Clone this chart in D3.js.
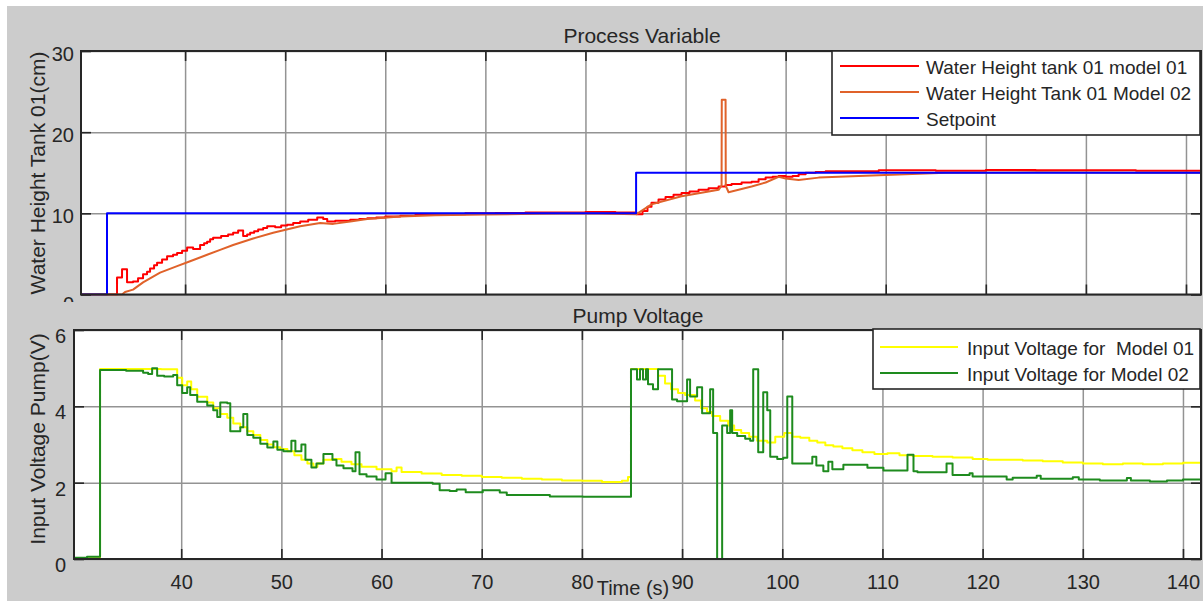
<!DOCTYPE html>
<html>
<head>
<meta charset="utf-8">
<script src="https://cdn.jsdelivr.net/npm/d3@7"></script>
<style>
  html, body { margin: 0; padding: 0; background: #ffffff; }
  svg { display: block; font-family: "Liberation Sans", Arial, Helvetica, sans-serif; }
  text { fill: #262626; }
</style>
</head>
<body>
<svg id="fig" width="1203" height="601"></svg>
<script>
// ---- Process variable (water height, cm) : [time s, value] ----
const setpoint = [[29.6,0],[32.2,10],[85.06,15],[141.6,15]];

const heightModel01 = [
  [29.6,0],[33.2,2.1],[33.7,3.1],[34.2,1.5],[34.8,1.6],[35.3,2.0],[35.8,2.5],[36.2,2.8],
  [36.5,3.2],[36.9,3.6],[37.2,3.9],[37.7,4.3],[38.2,4.7],[38.8,4.9],[39.2,5.1],[39.7,5.4],
  [40.2,5.8],[40.8,5.6],[41.5,6.1],[41.9,6.3],[42.2,6.5],[42.5,6.8],[42.8,7.0],[43.6,7.2],
  [44.3,7.4],[44.8,7.6],[45.3,7.9],[45.8,7.2],[46.2,7.4],[46.5,7.6],[46.9,7.8],[47.3,8.0],
  [47.8,8.2],[48.2,8.4],[49.0,8.3],[49.6,8.5],[50.2,8.6],[50.8,8.8],[51.5,9.0],[52.3,9.2],
  [53.2,9.5],[53.8,9.3],[54.2,9.0],[55.0,9.1],[56.5,9.2],[57.4,9.3],[58.2,9.4],[59.1,9.5],
  [60.0,9.6],[61.5,9.7],[63.0,9.8],[65.0,9.9],[68.0,10.0],[71.0,10.05],[74.0,10.1],
  [77.0,10.1],[80.0,10.15],[83.0,10.1],[85.1,9.9],[85.7,10.3],[86.2,10.8],[86.6,11.3],
  [87.3,11.7],[88.0,12.0],[88.8,12.3],[89.6,12.5],[90.4,12.7],[91.3,12.9],[92.3,13.1],
  [93.3,13.3],[94.0,13.5],[94.6,13.6],[95.6,13.8],[96.6,13.9],[97.3,14.2],[98.0,14.4],
  [98.7,14.5],[99.3,14.6],[100.0,14.5],[100.7,14.6],[101.3,14.8],[102.0,15.0],[103.0,15.1],
  [104.0,15.2],[109.3,15.3],[115.0,15.25],[120.0,15.35],[125.0,15.3],[130.0,15.3],
  [135.0,15.25],[141.6,15.25]
];

const heightModel02 = [
  [29.6,0],[33.7,0],[34.0,0.3],[34.8,0.6],[35.8,1.5],[37.5,2.7],[39.2,3.5],[40.5,4.1],
  [42.2,4.9],[43.5,5.5],[44.8,6.1],[46.8,6.9],[48.8,7.6],[51.5,8.4],[53.5,8.8],[54.8,8.7],
  [56.5,9.0],[58.2,9.3],[61.5,9.6],[65.0,9.75],[70.0,9.85],[75.0,9.95],[80.0,10.0],
  [85.1,9.9],[86.6,11.1],[89.6,12.1],[93.3,12.9],[93.6,13.4],[93.62,24.0],[94.0,24.0],
  [94.02,13.4],[94.3,12.6],[94.6,12.7],[96.6,13.3],[98.0,13.8],[99.3,14.5],[100.0,14.3],
  [101.3,14.1],[103.3,14.4],[105.3,14.5],[109.3,14.7],[116.0,15.0],[125.0,15.05],
  [135.0,15.0],[141.6,15.0]
];

// ---- Pump voltage (V) : [time s, value] ----
const voltageModel01 = [
  [29.3,0.02],[31.9,4.98],[36.0,4.98],[38.0,4.97],[39.6,4.75],[40.1,4.55],[40.6,4.65],
  [41.0,4.45],[41.6,4.25],[42.6,4.1],[43.2,3.95],[43.9,3.8],[44.6,3.7],[45.2,3.55],
  [45.9,3.45],[46.6,3.35],[47.2,3.25],[47.9,3.12],[48.6,3.0],[49.2,2.93],[49.9,2.88],
  [50.6,2.82],[51.3,2.72],[52.0,2.6],[52.6,2.5],[53.2,2.42],[53.6,2.5],[54.2,2.6],
  [55.1,2.62],[56.0,2.55],[57.0,2.48],[58.0,2.42],[59.5,2.35],[61.0,2.3],[61.5,2.4],
  [62.0,2.28],[64.0,2.24],[66.0,2.2],[68.0,2.18],[70.0,2.15],[72.0,2.13],[74.0,2.1],
  [76.0,2.08],[78.0,2.06],[80.0,2.05],[82.0,2.02],[84.0,2.05],[84.6,2.15],[84.9,4.98],
  [87.0,4.98],[87.6,4.8],[88.3,4.6],[88.9,4.45],[89.6,4.35],[90.3,4.3],[91.3,4.15],
  [91.9,3.95],[92.5,3.85],[93.0,3.75],[93.8,3.62],[94.6,3.5],[95.2,3.38],[95.9,3.3],
  [96.7,3.2],[97.5,3.1],[98.5,3.05],[99.3,3.2],[100.2,3.3],[101.0,3.2],[101.8,3.18],
  [102.7,3.1],[103.5,3.05],[104.3,2.98],[105.1,2.95],[106.0,2.9],[107.0,2.85],[108.0,2.8],
  [109.2,2.75],[110.5,2.77],[111.7,2.72],[113.0,2.7],[115.0,2.68],[117.0,2.66],
  [119.0,2.62],[120.5,2.6],[122.0,2.6],[124.0,2.58],[126.0,2.56],[128.0,2.53],[130.0,2.5],
  [132.0,2.48],[134.0,2.5],[136.0,2.48],[138.0,2.5],[140.0,2.52],[141.8,2.45]
];

const voltageModel02 = [
  [29.3,0.03],[30.6,0.06],[31.9,4.95],[34.5,4.93],[36.2,4.88],[36.7,4.85],[37.1,5.0],
  [37.6,4.8],[38.3,4.78],[39.2,4.82],[39.6,4.55],[40.1,4.35],[40.6,4.5],[40.9,4.3],
  [41.6,4.12],[42.6,4.02],[43.2,3.9],[43.6,3.72],[43.9,4.1],[44.6,4.08],[44.9,3.35],
  [45.9,3.45],[46.2,3.8],[46.6,3.25],[47.2,3.18],[47.9,3.02],[48.6,2.92],[49.2,3.08],
  [49.6,2.86],[50.2,2.82],[51.0,3.1],[51.4,2.82],[52.0,3.0],[52.4,2.6],[53.0,2.4],
  [53.5,2.5],[54.2,2.75],[55.1,2.6],[55.5,2.45],[56.2,2.38],[57.1,2.3],[57.4,2.8],
  [57.8,2.22],[58.5,2.16],[59.5,2.08],[60.4,2.25],[61.0,2.0],[65.1,1.97],[65.8,1.8],
  [66.8,1.78],[67.5,1.82],[68.4,1.75],[70.1,1.8],[71.8,1.74],[72.5,1.68],[76.8,1.64],
  [80.1,1.63],[84.9,4.97],[85.5,4.7],[85.8,4.97],[86.1,4.7],[86.4,4.97],[86.6,4.58],
  [87.1,4.45],[87.6,4.97],[89.0,4.18],[89.5,4.13],[90.5,4.7],[90.8,4.26],[91.5,4.5],
  [92.0,3.82],[92.8,4.45],[93.1,3.3],[93.5,0.0],[94.0,3.5],[94.5,3.3],[94.8,3.9],
  [95.0,3.3],[95.5,3.22],[96.3,3.15],[96.8,3.1],[97.1,4.97],[97.6,2.8],[98.1,4.37],
  [98.5,3.9],[98.8,2.68],[99.5,2.62],[100.1,2.65],[100.5,4.26],[101.0,2.5],[101.8,2.5],
  [103.0,2.68],[103.4,2.45],[104.1,2.3],[104.6,2.55],[105.0,2.35],[106.1,2.47],
  [108.5,2.39],[110.1,2.32],[112.5,2.73],[113.1,2.3],[113.5,2.27],[116.4,2.5],[117.0,2.2],
  [118.7,2.25],[119.0,2.16],[122.4,2.08],[123.0,2.13],[125.4,2.18],[125.8,2.1],
  [128.4,2.1],[129.0,2.14],[129.6,2.08],[131.7,2.06],[134.4,2.12],[134.8,2.06],
  [136.7,2.03],[138.4,2.06],[140.0,2.08],[141.8,2.1]
];

// ---- ticks and labels ----
const timeTicks = [40, 50, 60, 70, 80, 90, 100, 110, 120, 130, 140];
const heightTicks = [0, 10, 20, 30];
const voltageTicks = [0, 2, 4, 6];

const topLegend = ["Water Height tank 01 model 01", "Water Height Tank 01 Model 02", "Setpoint"];
const bottomLegend = ["Input Voltage for  Model 01", "Input Voltage for Model 02"];

const INK = "#262626";
const GRID = "#939393";
const BG = "#cccccc";

const svg = d3.select("#fig");

// figure background
svg.append("rect").attr("x", 7).attr("y", 6).attr("width", 1196).attr("height", 595).attr("fill", BG);

function drawPanel(cfg) {
  const { x, y, yTicks, showXLabels, id } = cfg;
  const [x0, x1] = x.range();
  const [y0, y1] = y.range(); // y0 bottom, y1 top
  const g = svg.append("g");

  g.append("rect").attr("x", x0).attr("y", y1).attr("width", x1 - x0).attr("height", y0 - y1).attr("fill", "#fff");

  // grid
  const gx = g.append("g").attr("transform", `translate(0,${y0})`)
    .call(d3.axisBottom(x).tickValues(timeTicks).tickSize(-(y0 - y1)).tickFormat(""));
  gx.select(".domain").remove();
  gx.selectAll(".tick line").attr("stroke", GRID).attr("stroke-width", 1.5);
  const gy = g.append("g").attr("transform", `translate(${x0},0)`)
    .call(d3.axisLeft(y).tickValues(yTicks).tickSize(-(x1 - x0)).tickFormat(""));
  gy.select(".domain").remove();
  gy.selectAll(".tick line").attr("stroke", GRID).attr("stroke-width", 1.5);

  // clip for data
  svg.append("clipPath").attr("id", id).append("rect")
    .attr("x", x0).attr("y", y1 - 1).attr("width", x1 - x0).attr("height", y0 - y1 + 2);
  const plot = g.append("g").attr("clip-path", `url(#${id})`);

  // inner tick marks on all four sides
  const tickLen = 10;
  const styleTicks = sel => {
    sel.select(".domain").remove();
    sel.selectAll(".tick line").attr("stroke", INK).attr("stroke-width", 1.6);
    sel.selectAll(".tick text").remove();
  };
  g.append("g").attr("transform", `translate(0,${y0})`)
    .call(d3.axisBottom(x).tickValues(timeTicks).tickSize(-tickLen)).call(styleTicks);
  g.append("g").attr("transform", `translate(0,${y1})`)
    .call(d3.axisTop(x).tickValues(timeTicks).tickSize(-tickLen)).call(styleTicks);
  g.append("g").attr("transform", `translate(${x0},0)`)
    .call(d3.axisLeft(y).tickValues(yTicks).tickSize(-tickLen)).call(styleTicks);
  g.append("g").attr("transform", `translate(${x1},0)`)
    .call(d3.axisRight(y).tickValues(yTicks).tickSize(-tickLen)).call(styleTicks);

  // tick labels
  const yl = g.append("g").attr("transform", `translate(${x0},0)`)
    .call(d3.axisLeft(y).tickValues(yTicks).tickSize(0).tickPadding(cfg.yPad).tickFormat(d3.format("d")));
  yl.select(".domain").remove();
  yl.selectAll(".tick text").attr("font-size", 20).attr("fill", INK)
    .attr("dy", null).attr("dominant-baseline", "central").attr("y", cfg.yLabelShift)
    .attr("font-family", "Liberation Sans, Arial, sans-serif");

  if (showXLabels) {
    const xl = g.append("g").attr("transform", `translate(0,${y0})`)
      .call(d3.axisBottom(x).tickValues(timeTicks).tickSize(0).tickFormat(d3.format("d")));
    xl.select(".domain").remove();
    xl.selectAll(".tick text").attr("font-size", 20).attr("fill", INK)
      .attr("dy", null).attr("y", 30).attr("font-family", "Liberation Sans, Arial, sans-serif");
  }

  return { g, plot, x0, x1, y0, y1 };
}

function drawBox(p) {
  p.g.append("rect").attr("x", p.x0).attr("y", p.y1).attr("width", p.x1 - p.x0).attr("height", p.y0 - p.y1)
    .attr("fill", "none").attr("stroke", INK).attr("stroke-width", 2);
}

function series(p, x, y, data, color, curve) {
  p.plot.append("path").datum(data)
    .attr("fill", "none").attr("stroke", color).attr("stroke-width", 2)
    .attr("stroke-linejoin", "round")
    .attr("d", d3.line().x(d => x(d[0])).y(d => y(d[1])).curve(curve));
}

function legend(box, entries, colors, rowStart) {
  const lg = svg.append("g");
  lg.append("rect").attr("x", box.x).attr("y", box.y).attr("width", box.w).attr("height", box.h)
    .attr("fill", "#fff").attr("stroke", INK).attr("stroke-width", 1.6);
  entries.forEach((t, i) => {
    const yy = rowStart + i * 26;
    lg.append("line").attr("x1", box.lineX0).attr("x2", box.lineX1).attr("y1", yy).attr("y2", yy)
      .attr("stroke", colors[i]).attr("stroke-width", 2);
    lg.append("text").attr("x", box.textX).attr("y", yy + 8).attr("font-size", 19)
      .style("white-space", "pre").attr("fill", INK).text(t);
  });
}

// ---------- upper panel: process variable ----------
const xTop = d3.scaleLinear().domain([29.6, 141.5]).range([81, 1201]);
const yTop = d3.scaleLinear().domain([0, 30]).range([294.5, 51]);
const upperPanel = drawPanel({ x: xTop, y: yTop, yTicks: heightTicks, showXLabels: false, id: "clipUpper",
  yPad: 7, yLabelShift: d => (d === 0 ? 9 : 2) });
series(upperPanel, xTop, yTop, heightModel01, "#ff0000", d3.curveStepAfter);
series(upperPanel, xTop, yTop, heightModel02, "#e0622a", d3.curveLinear);
series(upperPanel, xTop, yTop, setpoint, "#0000ff", d3.curveStepAfter);
drawBox(upperPanel);

svg.append("text").attr("x", 642).attr("y", 43).attr("text-anchor", "middle").attr("font-size", 21).text("Process Variable");
svg.append("text").attr("transform", "translate(45,173) rotate(-90)").attr("text-anchor", "middle")
  .attr("font-size", 21).text("Water Height Tank 01(cm)");

legend({ x: 832, y: 51, w: 368, h: 84, lineX0: 840, lineX1: 919, textX: 926 },
  topLegend, ["#ff0000", "#e0622a", "#0000ff"], 66);

// ---------- lower panel: pump voltage ----------
svg.append("rect").attr("x", 7).attr("y", 302).attr("width", 1196).attr("height", 299).attr("fill", BG);

const xBot = d3.scaleLinear().domain([29.3, 141.8]).range([74, 1201]);
const yBot = d3.scaleLinear().domain([0, 6]).range([559, 330]);
const lowerPanel = drawPanel({ x: xBot, y: yBot, yTicks: voltageTicks, showXLabels: true, id: "clipLower",
  yPad: 8, yLabelShift: 5.5 });
series(lowerPanel, xBot, yBot, voltageModel01, "#ffff00", d3.curveStepAfter);
series(lowerPanel, xBot, yBot, voltageModel02, "#1e8b1e", d3.curveStepAfter);
drawBox(lowerPanel);

svg.append("text").attr("x", 638).attr("y", 323).attr("text-anchor", "middle").attr("font-size", 21).text("Pump Voltage");
svg.append("text").attr("x", 633).attr("y", 595).attr("text-anchor", "middle").attr("font-size", 20).text("Time (s)");
svg.append("text").attr("transform", "translate(45,439) rotate(-90)").attr("text-anchor", "middle")
  .attr("font-size", 21).text("Input Voltage Pump(V)");

legend({ x: 873, y: 329, w: 327, h: 60, lineX0: 880, lineX1: 958, textX: 967 },
  bottomLegend, ["#ffff00", "#1e8b1e"], 347);
</script>
</body>
</html>
